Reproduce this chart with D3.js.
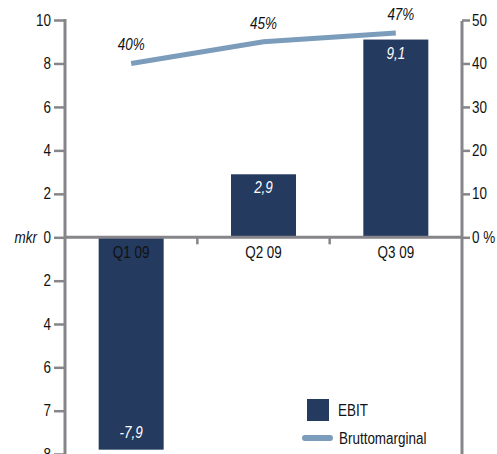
<!DOCTYPE html>
<html><head><meta charset="utf-8">
<script src="https://cdn.jsdelivr.net/npm/d3@7"></script>
<style>
body{margin:0;background:#fff;}
text{font-family:"Liberation Sans",Arial,sans-serif;font-size:16px;fill:#111;}
</style></head><body>
<svg id="c" width="497" height="454"></svg>
<script>
const categories = ["Q1 09","Q2 09","Q3 09"];
const ebit = [-7.9, 2.9, 9.1];
const ebitLabels = ["-7,9","2,9","9,1"];
const margin = [40, 45, 47];
const marginLabels = ["40%","45%","47%"];
const leftTicks = [-8,-7,-6,-4,-2,0,2,4,6,8,10];
const leftTickLabels = ["8","7","6","4","2","0","2","4","6","8","10"];
const rightTicks = [0,10,20,30,40,50];
const rightTickLabels = ["0 %","10","20","30","40","50"];

const barColor = "#243a5f", lineColor = "#7b9dbb", axisColor = "#85858a";
const svg = d3.select("#c");
const x0 = 65, x1 = 462;
const x = d3.scaleBand().domain(categories).range([x0, x1]).paddingInner(0).paddingOuter(0);
const y = d3.scaleLinear().domain([-8,-7,-6,-4,-2,0,10]).range([454,410.7,367.3,324,280.7,237.3,20]);
const yr = d3.scaleLinear().domain([0,50]).range([237.3,20]);
const bw = 65;
const cx = c => x(c) + x.bandwidth()/2;

// bars
svg.selectAll("rect.bar").data(ebit).join("rect")
  .attr("x",(d,i)=>cx(categories[i])-bw/2).attr("width",bw)
  .attr("y",d=>y(Math.max(0,d))).attr("height",d=>Math.abs(y(d)-y(0)))
  .attr("fill",barColor);

// left axis
const la = svg.append("g").attr("transform",`translate(${x0},0)`)
  .call(d3.axisLeft(y).tickValues(leftTicks).tickFormat((d,i)=>leftTickLabels[i]).tickSize(11).tickPadding(3));
// right axis
const ra = svg.append("g").attr("transform",`translate(${x1},0)`)
  .call(d3.axisRight(yr).tickValues(rightTicks).tickFormat((d,i)=>rightTickLabels[i]).tickSize(8).tickPadding(2));
[la,ra].forEach(g=>{
  g.select(".domain").remove();
  g.selectAll(".tick line").attr("stroke",axisColor).attr("stroke-width",2.5);
  g.selectAll(".tick text").attr("font-size",16).attr("font-family",null);
});
svg.append("line").attr("x1",x0).attr("x2",x0).attr("y1",19).attr("y2",454).attr("stroke",axisColor).attr("stroke-width",3);
svg.append("line").attr("x1",x1).attr("x2",x1).attr("y1",21).attr("y2",454).attr("stroke",axisColor).attr("stroke-width",3);

// x axis
const xa = svg.append("g").attr("transform",`translate(0,${y(0)})`)
  .call(d3.axisBottom(x).tickSize(0).tickPadding(9));
xa.select(".domain").remove();
xa.selectAll(".tick text").attr("font-size",16).attr("fill",(d,i)=>ebit[i]<0?"#fff":"#111").attr("font-family",null);
svg.append("line").attr("x1",x0).attr("x2",x1).attr("y1",y(0)).attr("y2",y(0)).attr("stroke",axisColor).attr("stroke-width",3);
svg.selectAll("line.xt").data(categories.slice(1)).join("line")
  .attr("x1",d=>x(d)).attr("x2",d=>x(d)).attr("y1",y(0)).attr("y2",y(0)+7)
  .attr("stroke",axisColor).attr("stroke-width",2.5);

svg.append("text").attr("x",37).attr("y",y(0)+6).attr("text-anchor","end").attr("font-style","italic").text("mkr");

// bar labels
svg.selectAll("text.bl").data(ebit).join("text")
  .attr("x",(d,i)=>cx(categories[i]))
  .attr("y",d=>d<0?y(d)-12:y(d)+19)
  .attr("text-anchor","middle").attr("font-style","italic").style("fill","#fff")
  .text((d,i)=>ebitLabels[i]);

// line
const line = d3.line().x((d,i)=>cx(categories[i])).y(d=>yr(d));
svg.append("path").datum(margin).attr("d",line).attr("fill","none")
  .attr("stroke",lineColor).attr("stroke-width",5);
svg.selectAll("text.ml").data(margin).join("text")
  .attr("x",(d,i)=>cx(categories[i])+(i===2?5:0)).attr("y",d=>yr(d)-13)
  .attr("text-anchor","middle").attr("font-style","italic").text((d,i)=>marginLabels[i]);

// legend
svg.append("rect").attr("x",307).attr("y",399).attr("width",22).attr("height",22).attr("fill",barColor);
svg.append("text").attr("x",338).attr("y",416).text("EBIT");
svg.append("line").attr("x1",305).attr("x2",330).attr("y1",438).attr("y2",438)
  .attr("stroke",lineColor).attr("stroke-width",6).attr("stroke-linecap","round");
svg.append("text").attr("x",339).attr("y",444).text("Bruttomarginal");

// narrow the glyphs to mimic a condensed face
svg.selectAll("text").each(function(){
  const L = this.getComputedTextLength();
  if (L > 0) d3.select(this).attr("textLength", L*0.84).attr("lengthAdjust","spacingAndGlyphs");
});
</script></body></html>
